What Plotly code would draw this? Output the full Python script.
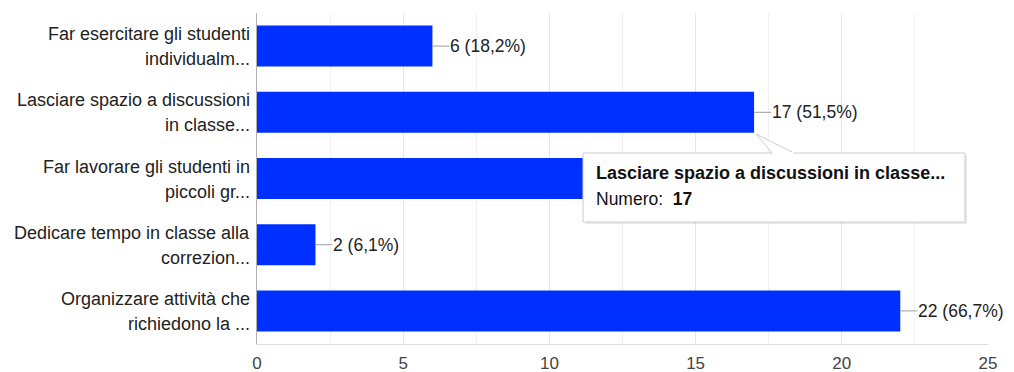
import plotly.graph_objects as go

# Survey answers (multiple choice, 33 respondents)
label_line1 = [
    "Far esercitare gli studenti",
    "Lasciare spazio a discussioni",
    "Far lavorare gli studenti in",
    "Dedicare tempo in classe alla",
    "Organizzare attività che",
]
label_line2 = [
    "individualm...",
    "in classe...",
    "piccoli gr...",
    "correzion...",
    "richiedono la ...",
]
counts = [6, 17, 13, 2, 22]
percent_labels = ["18,2%", "51,5%", "39,4%", "6,1%", "66,7%"]
x_ticks = [0, 5, 10, 15, 20, 25]

# Hovered bar shown with its tooltip; the tooltip hides the label of the bar below it
hover_index = 1
covered_index = 2
hover_title = "Lasciare spazio a discussioni in classe..."

FONT = "Liberation Sans, Arial, sans-serif"
BAR_COLOR = "#0030ff"

W, H = 1014, 372
L, R, T, B = 257, 988, 13, 344  # plot box in pixels


def px_x(p):
    return (p - L) / (R - L)


def px_y(p):
    return (B - p) / (B - T)


cats = [a + " " + b for a, b in zip(label_line1, label_line2)]

fig = go.Figure(
    go.Bar(
        x=counts,
        y=cats,
        orientation="h",
        marker=dict(color=BAR_COLOR, line=dict(width=0)),
        hoverinfo="skip",
    )
)

annotations = []
# Category labels, two right-aligned lines per bar
for c, l1, l2 in zip(cats, label_line1, label_line2):
    for text, shift in ((l1, 12), (l2, -13)):
        annotations.append(dict(
            x=0, xref="paper", xshift=-5, y=c, yref="y", yshift=shift,
            text=text, showarrow=False, xanchor="right", yanchor="middle",
            font=dict(family=FONT, size=18, color="#222222"),
        ))

# Value labels with short leader lines
for i, (c, v, p) in enumerate(zip(cats, counts, percent_labels)):
    if i == covered_index:
        continue
    annotations.append(dict(
        x=v, y=c, xref="x", yref="y",
        text=f"{v} ({p})", showarrow=True, arrowhead=0, arrowwidth=1,
        arrowcolor="#9e9e9e", ax=17, ay=0, xanchor="left", yanchor="middle",
        standoff=0, borderpad=0,
        font=dict(family=FONT, size=17.5, color="#222222"),
    ))

# Tooltip box
tip_l, tip_r, tip_t, tip_b = 583, 965, 153, 222
shapes = [
    dict(type="rect", xref="paper", yref="paper", layer="above",
         x0=px_x(tip_l + 2), x1=px_x(tip_r + 2), y0=px_y(tip_b + 2), y1=px_y(tip_t + 2),
         fillcolor="rgba(0,0,0,0.08)", line=dict(width=0)),
    dict(type="rect", xref="paper", yref="paper", layer="above",
         x0=px_x(tip_l), x1=px_x(tip_r), y0=px_y(tip_b), y1=px_y(tip_t),
         fillcolor="white", line=dict(color="#cccccc", width=1)),
    dict(type="path", xref="paper", yref="paper", layer="above",
         path=(f"M {px_x(772)} {px_y(tip_t)} L {px_x(756)} {px_y(134)} "
               f"L {px_x(794)} {px_y(tip_t)}"),
         fillcolor="white", line=dict(color="#cccccc", width=1)),
    dict(type="line", xref="paper", yref="paper", layer="above",
         x0=px_x(772.5), x1=px_x(793.5), y0=px_y(tip_t), y1=px_y(tip_t),
         line=dict(color="white", width=2)),
]
annotations.append(dict(
    x=px_x(594), y=px_y(173), xref="paper", yref="paper",
    text=f"<b>{hover_title}</b>", showarrow=False, xanchor="left", yanchor="middle",
    font=dict(family=FONT, size=18, color="#111111"),
))
annotations.append(dict(
    x=px_x(594), y=px_y(199), xref="paper", yref="paper",
    text=f"Numero:  <b>{counts[hover_index]}</b>", showarrow=False,
    xanchor="left", yanchor="middle",
    font=dict(family=FONT, size=17.5, color="#111111"),
))

fig.update_layout(
    width=W, height=H,
    margin=dict(l=L, r=W - R, t=T, b=H - B, autoexpand=False),
    paper_bgcolor="white", plot_bgcolor="white",
    bargap=0.38,
    showlegend=False,
    annotations=annotations,
    shapes=shapes,
    xaxis=dict(
        range=[0, 25], tickvals=x_ticks, ticktext=[str(t) for t in x_ticks],
        showgrid=True, gridcolor="#e6e6e6", gridwidth=1,
        minor=dict(dtick=2.5, tick0=0, showgrid=True, gridcolor="#f0f0f0"),
        zeroline=False, showline=True, linecolor="#e0e0e0", linewidth=1,
        ticks="", ticklabelstandoff=4,
        tickfont=dict(family=FONT, size=17, color="#444444"),
        fixedrange=True,
    ),
    yaxis=dict(
        autorange="reversed", showticklabels=False, ticks="",
        showgrid=False, zeroline=False,
        showline=True, linecolor="#b0b0b0", linewidth=1,
        fixedrange=True,
    ),
)

fig.write_html("out.html")
